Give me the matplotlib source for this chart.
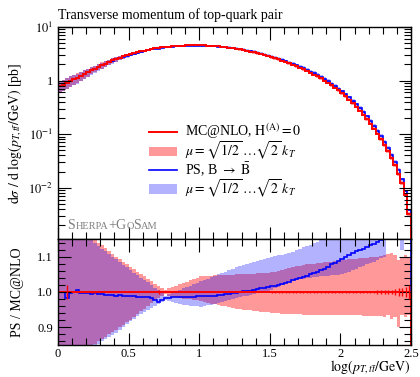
import numpy as np
import matplotlib
matplotlib.use("Agg")
import matplotlib.pyplot as plt
from matplotlib.ticker import FuncFormatter
from matplotlib.offsetbox import TextArea, HPacker, AnchoredOffsetbox

plt.rcParams['font.family'] = ['Liberation Serif', 'DejaVu Serif']
plt.rcParams['mathtext.fontset'] = 'stix'

# bins in log(pT/GeV), width 0.025
edges = np.linspace(0.0, 2.5, 101)

# MC@NLO central value [pb]
mc_central = [
    0.776, 0.832, 0.902, 0.977, 1.047, 1.122, 1.216, 1.318, 1.429, 1.549,
    1.660, 1.799, 1.928, 2.065, 2.213, 2.371, 2.512, 2.661, 2.818, 2.951,
    3.090, 3.236, 3.388, 3.508, 3.631, 3.758, 3.890, 3.981, 4.074, 4.169,
    4.246, 4.315, 4.365, 4.416, 4.467, 4.498, 4.519, 4.539, 4.550, 4.550,
    4.539, 4.519, 4.487, 4.446, 4.395, 4.335, 4.266, 4.188, 4.102, 4.009,
    3.908, 3.811, 3.707, 3.597, 3.483, 3.365, 3.243, 3.119, 2.992, 2.864,
    2.735, 2.606, 2.477, 2.350, 2.223, 2.099, 1.977, 1.858, 1.742, 1.626,
    1.514, 1.403, 1.297, 1.194, 1.094, 0.998, 0.906, 0.817, 0.733, 0.653,
    0.578, 0.507, 0.441, 0.380, 0.325, 0.275, 0.231, 0.191, 0.157, 0.127,
    0.102, 0.0804, 0.0624, 0.0476, 0.0356, 0.0260, 0.0182, 0.0120, 0.00724, 0.00316,
]

# PS / MC@NLO
ps_ratio = [
    1.000, 0.999, 0.983, 0.998, 1.000, 1.006, 0.998, 0.997, 0.996, 0.995,
    0.996, 0.993, 0.994, 0.992, 0.991, 0.992, 0.990, 0.991, 0.989, 0.988,
    0.989, 0.988, 0.986, 0.986, 0.985, 0.985, 0.984, 0.978, 0.972, 0.976,
    0.982, 0.984, 0.985, 0.985, 0.986, 0.986, 0.987, 0.987, 0.987, 0.988,
    0.988, 0.989, 0.989, 0.990, 0.990, 0.991, 0.992, 0.993, 0.994, 0.996,
    0.998, 0.999, 1.002, 1.003, 1.004, 1.006, 1.008, 1.010, 1.012, 1.014,
    1.016, 1.018, 1.020, 1.022, 1.025, 1.029, 1.033, 1.036, 1.040, 1.042,
    1.046, 1.050, 1.053, 1.058, 1.062, 1.066, 1.071, 1.078, 1.083, 1.088,
    1.094, 1.098, 1.104, 1.109, 1.115, 1.118, 1.123, 1.128, 1.132, 1.136,
    1.141, 1.146, 1.150, 1.158, 1.165, 1.172, 1.180, 1.190, 1.200, 1.210,
]

# scale variation bands, relative to MC@NLO central
mc_lo = [
    0.770, 0.775, 0.780, 0.785, 0.790, 0.800, 0.810, 0.820, 0.832, 0.845,
    0.852, 0.860, 0.867, 0.873, 0.880, 0.886, 0.893, 0.900, 0.908, 0.915,
    0.922, 0.930, 0.937, 0.945, 0.952, 0.960, 0.968, 0.976, 0.984, 0.990,
    0.993, 0.990, 0.987, 0.985, 0.983, 0.981, 0.980, 0.979, 0.977, 0.976,
    0.975, 0.972, 0.970, 0.967, 0.965, 0.963, 0.961, 0.959, 0.957, 0.955,
    0.953, 0.952, 0.950, 0.949, 0.948, 0.946, 0.945, 0.944, 0.943, 0.942,
    0.941, 0.940, 0.940, 0.939, 0.939, 0.938, 0.938, 0.937, 0.937, 0.936,
    0.936, 0.936, 0.935, 0.935, 0.935, 0.935, 0.934, 0.934, 0.934, 0.934,
    0.934, 0.934, 0.934, 0.934, 0.934, 0.934, 0.933, 0.933, 0.933, 0.933,
    0.932, 0.932, 0.930, 0.935, 0.925, 0.930, 0.900, 0.935, 0.930, 0.935,
]
mc_hi = [
    1.240, 1.235, 1.230, 1.225, 1.220, 1.210, 1.200, 1.190, 1.175, 1.160,
    1.150, 1.140, 1.132, 1.124, 1.116, 1.108, 1.100, 1.092, 1.085, 1.078,
    1.071, 1.064, 1.057, 1.050, 1.044, 1.038, 1.031, 1.024, 1.016, 1.010,
    1.006, 1.010, 1.014, 1.018, 1.022, 1.026, 1.029, 1.033, 1.037, 1.040,
    1.045, 1.045, 1.046, 1.046, 1.047, 1.047, 1.048, 1.048, 1.049, 1.049,
    1.050, 1.050, 1.051, 1.051, 1.052, 1.052, 1.053, 1.053, 1.054, 1.055,
    1.056, 1.058, 1.060, 1.063, 1.066, 1.069, 1.071, 1.073, 1.075, 1.077,
    1.078, 1.079, 1.080, 1.082, 1.083, 1.084, 1.085, 1.086, 1.087, 1.088,
    1.090, 1.091, 1.092, 1.093, 1.094, 1.095, 1.096, 1.097, 1.098, 1.099,
    1.100, 1.102, 1.104, 1.108, 1.110, 1.106, 1.090, 1.100, 1.105, 1.100,
]
ps_lo = [
    0.750, 0.755, 0.760, 0.765, 0.775, 0.785, 0.795, 0.805, 0.818, 0.832,
    0.845, 0.852, 0.860, 0.866, 0.872, 0.877, 0.885, 0.893, 0.902, 0.910,
    0.918, 0.925, 0.932, 0.938, 0.944, 0.949, 0.955, 0.960, 0.965, 0.972,
    0.978, 0.975, 0.972, 0.969, 0.966, 0.964, 0.962, 0.961, 0.960, 0.959,
    0.958, 0.960, 0.962, 0.964, 0.966, 0.969, 0.972, 0.975, 0.978, 0.981,
    0.984, 0.986, 0.988, 0.990, 0.992, 0.994, 0.996, 0.998, 1.000, 1.002,
    1.005, 1.010, 1.015, 1.020, 1.025, 1.030, 1.032, 1.034, 1.036, 1.038,
    1.040, 1.041, 1.042, 1.043, 1.044, 1.045, 1.046, 1.047, 1.048, 1.049,
    1.050, 1.054, 1.058, 1.062, 1.066, 1.070, 1.074, 1.078, 1.082, 1.086,
    1.090, 1.095, 1.100, 1.155, 1.160, 1.160, 1.158, 1.120, 1.170, 1.180,
]
ps_hi = [
    1.235, 1.230, 1.225, 1.220, 1.210, 1.200, 1.190, 1.180, 1.165, 1.152,
    1.140, 1.130, 1.122, 1.115, 1.107, 1.100, 1.093, 1.085, 1.077, 1.070,
    1.062, 1.055, 1.048, 1.040, 1.033, 1.027, 1.020, 1.012, 1.005, 1.000,
    0.990, 0.994, 0.998, 1.002, 1.006, 1.010, 1.014, 1.018, 1.022, 1.026,
    1.030, 1.034, 1.038, 1.042, 1.046, 1.050, 1.054, 1.058, 1.062, 1.066,
    1.070, 1.073, 1.076, 1.079, 1.082, 1.085, 1.088, 1.091, 1.094, 1.097,
    1.100, 1.102, 1.104, 1.106, 1.108, 1.110, 1.114, 1.118, 1.122, 1.126,
    1.130, 1.134, 1.138, 1.142, 1.146, 1.150, 1.155, 1.160, 1.165, 1.170,
    1.175, 1.180, 1.185, 1.190, 1.195, 1.200, 1.205, 1.210, 1.215, 1.220,
    1.225, 1.230, 1.235, 1.240, 1.245, 1.250, 1.255, 1.260, 1.265, 1.270,
]

# MC@NLO statistical error (relative)
mc_stat = [
    0, 0, 0.02, 0, 0, 0, 0, 0, 0, 0.002,
    0.003, 0, 0, 0, 0, 0, 0, 0, 0, 0,
    0, 0, 0, 0, 0, 0, 0, 0, 0.006, 0,
    0, 0, 0, 0, 0, 0, 0, 0, 0, 0,
    0, 0, 0, 0, 0, 0, 0, 0, 0, 0,
    0, 0, 0, 0, 0, 0, 0, 0, 0, 0,
    0.002, 0.002, 0.002, 0.002, 0.002, 0.002, 0.002, 0.002, 0.002, 0.002,
    0.002, 0.002, 0.002, 0.002, 0.002, 0.002, 0.002, 0.002, 0.002, 0.002,
    0.002, 0.002, 0.002, 0.003, 0.003, 0.003, 0.003, 0.004, 0.004, 0.004,
    0.005, 0.005, 0.006, 0.006, 0.007, 0.008, 0.010, 0.012, 0.015, 0.020,
]

mc = np.array(mc_central)
ratio = np.array(ps_ratio)
centers = 0.5 * (edges[1:] + edges[:-1])
width = edges[1] - edges[0]

red = '#ff0000'
blue = '#0000ff'
red_band = dict(color=red, alpha=0.4, linewidth=0)
blue_band = dict(color=blue, alpha=0.3, linewidth=0)

fig = plt.figure(figsize=(4.2, 3.77), dpi=100)
ax1 = fig.add_axes([58 / 420, 1 - 239 / 377, 353 / 420, 212 / 377])
ax2 = fig.add_axes([58 / 420, 1 - 345 / 377, 353 / 420, 106 / 377], sharex=ax1)

# main panel
lo = mc * np.array(mc_lo)
hi = mc * np.array(mc_hi)
b_red = ax1.bar(centers, hi - lo, bottom=lo, width=width, **red_band)
lo = mc * np.array(ps_lo)
hi = mc * np.array(ps_hi)
b_blue = ax1.bar(centers, hi - lo, bottom=lo, width=width, **blue_band)
l_blue = ax1.stairs(mc * ratio, edges, color=blue, lw=1.2)
l_red = ax1.stairs(mc, edges, color=red, lw=1.4)

ax1.set_yscale('log')
ax1.set_ylim(1.1e-3, 10)
ax1.set_xlim(0, 2.5)
ax1.set_ylabel(r'$\mathrm{d}\sigma\ /\ \mathrm{d}\ \log(p_{T,t\bar{t}}/\mathrm{GeV})$ [pb]', fontsize=10)
ax1.set_title('Transverse momentum of top-quark pair', loc='left', fontsize=10, pad=6)
plt.setp(ax1.get_xticklabels(), visible=False)


def log_label(v, pos):
    if abs(v - 1) < 1e-9:
        return '1'
    return r'$10^{%d}$' % round(np.log10(v))


ax1.yaxis.set_major_formatter(FuncFormatter(log_label))

band_label = r'$\mu=\sqrt{1/2}\,\ldots\sqrt{2}\;k_T$'
ax1.legend([l_red, b_red, l_blue, b_blue],
           [r'MC@NLO, $\mathrm{H}^{(\mathrm{A})}=0$', band_label,
            r'PS, B $\rightarrow$ $\bar{\mathrm{B}}$', band_label],
           loc='upper left', bbox_to_anchor=(0.238, 0.585), frameon=False, fontsize=10,
           handlelength=2.0, handletextpad=0.6, labelspacing=-0.1, borderpad=0)

# Sherpa+GoSam label in small caps
grey = '#808080'
parts = [('S', 10), ('HERPA', 7.5), ('+G', 10), ('O', 7.5), ('S', 10), ('AM', 7.5)]
boxes = [TextArea(t, textprops=dict(color=grey, fontsize=s)) for t, s in parts]
pack = HPacker(children=boxes, align='baseline', pad=0, sep=0)
ab = AnchoredOffsetbox(loc='lower left', child=pack, pad=0, frameon=False,
                       bbox_to_anchor=(0.027, 0.035), bbox_transform=ax1.transAxes,
                       borderpad=0)
ax1.add_artist(ab)

# ratio panel
ax2.bar(centers, np.array(mc_hi) - np.array(mc_lo), bottom=mc_lo, width=width, **red_band)
ax2.bar(centers, np.array(ps_hi) - np.array(ps_lo), bottom=ps_lo, width=width, **blue_band)
ax2.stairs(ratio, edges, color=blue, lw=1.2)
ax2.stairs(mc / mc, edges, color=red, lw=1.4)
ax2.errorbar(centers, mc / mc, yerr=mc_stat, fmt='none', ecolor=red, elinewidth=1)
ax2.set_ylim(0.85, 1.15)
ax2.set_yticks([0.9, 1.0, 1.1])
ax2.set_yticklabels(['0.9', '1.0', '1.1'])
ax2.set_yticks(np.arange(0.86, 1.15, 0.02), minor=True)
ax2.set_xticks([0, 0.5, 1, 1.5, 2, 2.5])
ax2.set_xticklabels(['0', '0.5', '1', '1.5', '2', '2.5'])
ax2.set_xticks(np.arange(0, 2.51, 0.1), minor=True)
ax2.set_ylabel('PS / MC@NLO', fontsize=10)
ax2.set_xlabel(r'$\log(p_{T,t\bar{t}}/\mathrm{GeV})$', fontsize=10, loc='right', labelpad=-1)

for ax in (ax1, ax2):
    ax.tick_params(which='both', direction='in', top=True, right=True, labelsize=9)
    ax.tick_params(which='major', length=9, width=0.8)
    ax.tick_params(which='minor', length=5, width=0.8)
    for s in ax.spines.values():
        s.set_linewidth(1.0)
ax2.tick_params(axis='x', pad=2)

ax1.yaxis.set_label_coords(-0.097, 0.5)
ax2.yaxis.set_label_coords(-0.097, 0.5)

fig.savefig('out.png', dpi=100)
